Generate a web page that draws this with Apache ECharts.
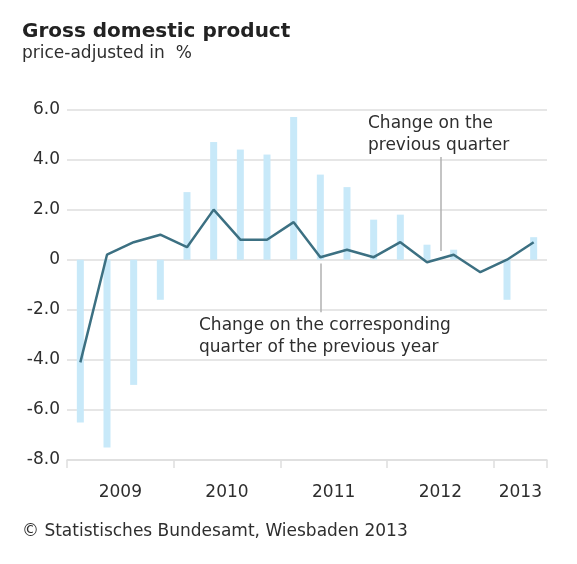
<!DOCTYPE html>
<html lang="en">
<head>
    <meta charset="UTF-8">
    <title>Gross domestic product</title>
    <script src="https://cdn.jsdelivr.net/npm/echarts@6/dist/echarts.min.js"></script>
    <style>
        html, body {
            margin: 0;
            padding: 0;
            background: #ffffff;
        }

        #chart {
            width: 577px;
            height: 564px;
        }
    </style>
</head>
<body>
<div id="chart"></div>
<script>
    // quarterly values, 2009 Q1 .. 2013 Q2
    const quarters = ['2009 Q1', '2009 Q2', '2009 Q3', '2009 Q4',
        '2010 Q1', '2010 Q2', '2010 Q3', '2010 Q4',
        '2011 Q1', '2011 Q2', '2011 Q3', '2011 Q4',
        '2012 Q1', '2012 Q2', '2012 Q3', '2012 Q4',
        '2013 Q1', '2013 Q2'];
    const barValues = [-6.5, -7.5, -5.0, -1.6, 2.7, 4.7, 4.4, 4.2, 5.7,
        3.4, 2.9, 1.6, 1.8, 0.6, 0.4, 0.0, -1.6, 0.9];
    const lineValues = [-4.1, 0.2, 0.7, 1.0, 0.5, 2.0, 0.8, 0.8, 1.5,
        0.1, 0.4, 0.1, 0.7, -0.1, 0.2, -0.5, 0.0, 0.7];
    const years = ['2009', '2010', '2011', '2012', '2013'];
    const quartersPerYear = [4, 4, 4, 4, 2];

    const font = '"DejaVu Sans", Verdana, sans-serif';
    const textColor = '#2e2e2e';
    const gridColor = '#dedede';

    // year boundaries and year label positions on the quarter scale
    const yearEdges = [0];
    const yearMids = [];
    quartersPerYear.forEach(function (n) {
        const start = yearEdges[yearEdges.length - 1];
        yearMids.push(start + n / 2);
        yearEdges.push(start + n);
    });

    const barData = barValues.map((v, i) => [i + 0.5, v]);
    const lineData = lineValues.map((v, i) => [i + 0.5, v]);

    const chart = echarts.init(document.getElementById('chart'));
    chart.setOption({
        animation: false,
        grid: {
            left: 67,
            right: 30,
            top: 109.5,
            bottom: 104
        },
        xAxis: {
            type: 'value',
            min: 0,
            max: quarters.length,
            splitLine: {show: false},
            axisLine: {show: true, onZero: false, lineStyle: {color: gridColor, width: 1.5}},
            axisTick: {
                show: true,
                customValues: yearEdges,
                length: 8,
                lineStyle: {color: gridColor, width: 1.5}
            },
            axisLabel: {
                customValues: yearMids,
                formatter: function (v) {
                    return years[yearMids.indexOf(v)];
                },
                margin: 24,
                fontFamily: font,
                fontSize: 17,
                color: textColor
            }
        },
        yAxis: {
            type: 'value',
            min: -8,
            max: 6,
            interval: 2,
            axisLine: {show: false},
            axisTick: {show: false},
            splitLine: {lineStyle: {color: gridColor, width: 1.5}},
            axisLabel: {
                margin: 7,
                fontFamily: font,
                fontSize: 17,
                color: textColor,
                formatter: v => v === 0 ? '0' : v.toFixed(1)
            }
        },
        series: [
            {
                name: 'Change on the corresponding quarter of the previous year',
                type: 'bar',
                data: barData,
                barWidth: 7,
                itemStyle: {color: '#c8e9f9'},
                silent: true
            },
            {
                name: 'Change on the previous quarter',
                type: 'line',
                data: lineData,
                symbol: 'none',
                lineStyle: {color: '#3c7082', width: 2.5},
                silent: true,
                markLine: {
                    silent: true,
                    symbol: 'none',
                    label: {show: false},
                    lineStyle: {color: '#b0b0b0', width: 1.5, type: 'solid'},
                    data: [
                        [{coord: [14, 4.1]}, {coord: [14, 0.35]}],
                        [{coord: [9.5, -0.15]}, {coord: [9.5, -2.1]}]
                    ]
                }
            }
        ],
        graphic: [
            {
                type: 'text', left: 22, top: 22,
                style: {text: 'Gross domestic product', font: 'bold 20px ' + font, fill: '#222222'}
            },
            {
                type: 'text', left: 22, top: 45,
                style: {text: 'price-adjusted in  %', font: '17px ' + font, fill: textColor}
            },
            {
                type: 'text', left: 368, top: 113,
                style: {
                    text: 'Change on the\nprevious quarter',
                    font: '17px ' + font, fill: textColor, lineHeight: 22
                }
            },
            {
                type: 'text', left: 199, top: 315,
                style: {
                    text: 'Change on the corresponding\nquarter of the previous year',
                    font: '17px ' + font, fill: textColor, lineHeight: 22
                }
            },
            {
                type: 'text', left: 22, top: 523,
                style: {text: '© Statistisches Bundesamt, Wiesbaden 2013', font: '17px ' + font, fill: textColor}
            }
        ]
    });
</script>
</body>
</html>
